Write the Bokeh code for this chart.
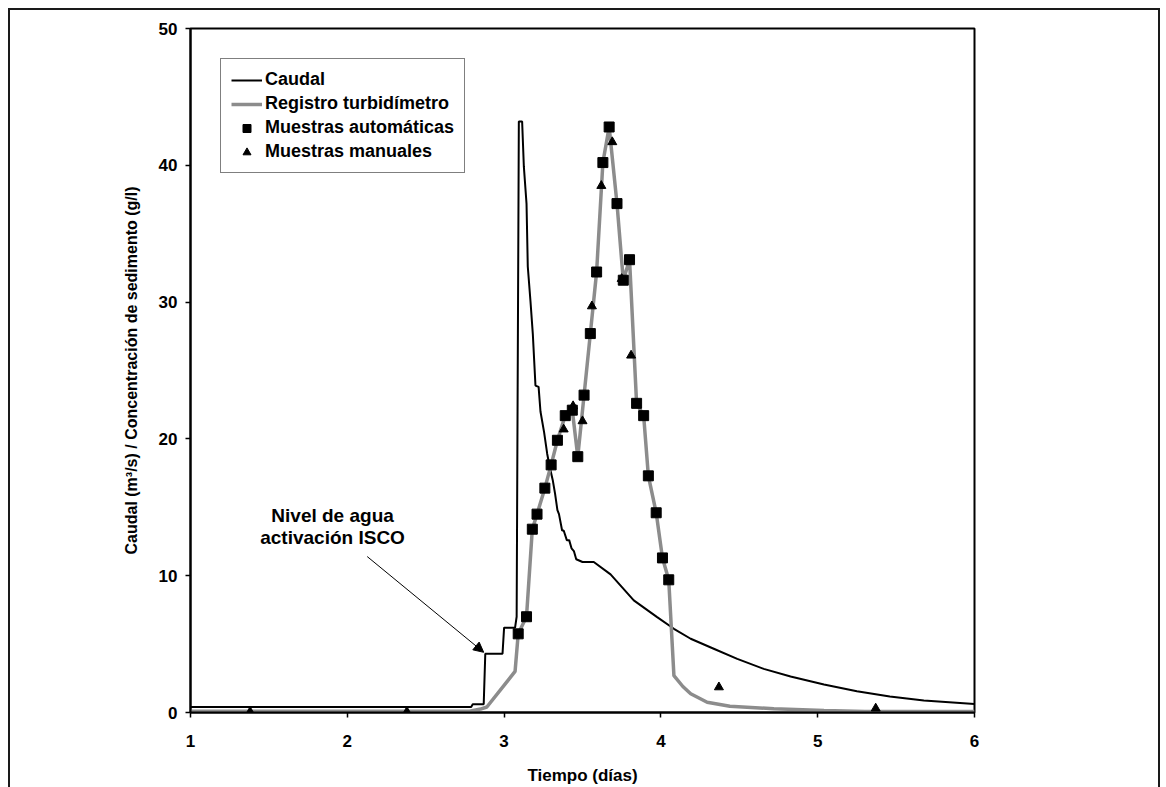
from bokeh.plotting import figure
from bokeh.models import Range1d, Legend, LegendItem, Label, Arrow, NormalHead, FixedTicker
from bokeh.embed import file_html
from bokeh.resources import INLINE

# ---- data ----
caudal_t = [1.0, 2.79, 2.80, 2.87, 2.88, 2.99, 3.0, 3.07, 3.08, 3.094, 3.115, 3.126, 3.143,
            3.151, 3.168, 3.183, 3.20, 3.22, 3.232, 3.255, 3.275, 3.29, 3.31, 3.325, 3.34,
            3.35, 3.37, 3.38, 3.40, 3.415, 3.43, 3.445, 3.46, 3.50, 3.572, 3.679, 3.827,
            3.976, 4.083, 4.19, 4.337, 4.487, 4.656, 4.827, 5.04, 5.25, 5.46, 5.677, 6.0]
caudal_q = [0.4, 0.4, 0.6, 0.6, 4.3, 4.3, 6.2, 6.2, 7.0, 43.2, 43.2, 39.9, 37.2,
            32.6, 30.1, 27.7, 23.9, 23.8, 22.0, 20.5, 18.9, 18.0, 17.0, 16.0, 14.8,
            14.5, 13.3, 13.3, 12.6, 12.6, 12.0, 11.8, 11.2, 11.0, 11.0, 10.1, 8.2,
            6.97, 6.12, 5.39, 4.66, 3.92, 3.19, 2.63, 2.05, 1.56, 1.17, 0.88, 0.62]

turb_t = [1.0, 2.78, 2.85, 2.89, 3.07, 3.09, 3.143, 3.18, 3.21, 3.26, 3.30, 3.34, 3.39,
          3.435, 3.47, 3.51, 3.55, 3.59, 3.63, 3.67, 3.72, 3.76, 3.80, 3.845, 3.89, 3.92,
          3.97, 4.01, 4.05, 4.083, 4.14, 4.19, 4.295, 4.44, 4.72, 5.04, 5.3, 6.0]
turb_c = [0.1, 0.1, 0.25, 0.4, 3.0, 5.75, 7.0, 13.4, 14.5, 16.4, 18.1, 19.9, 21.7,
          22.1, 18.7, 23.2, 27.7, 32.2, 40.2, 42.8, 37.2, 31.6, 33.1, 22.6, 21.7, 17.3,
          14.6, 11.3, 9.7, 2.7, 1.9, 1.37, 0.75, 0.46, 0.27, 0.15, 0.07, 0.07]

auto_t = [3.09, 3.143, 3.18, 3.21, 3.26, 3.30, 3.34, 3.39, 3.435, 3.47, 3.51, 3.55,
          3.59, 3.63, 3.67, 3.72, 3.76, 3.80, 3.845, 3.89, 3.92, 3.97, 4.01, 4.05]
auto_c = [5.75, 7.0, 13.4, 14.5, 16.4, 18.1, 19.9, 21.7, 22.1, 18.7, 23.2, 27.7,
          32.2, 40.2, 42.8, 37.2, 31.6, 33.1, 22.6, 21.7, 17.3, 14.6, 11.3, 9.7]

man_t = [1.38, 2.38, 3.38, 3.44, 3.50, 3.56, 3.62, 3.69, 3.75, 3.81, 4.37, 5.37]
man_c = [0.05, 0.05, 20.7, 22.4, 21.3, 29.7, 38.5, 41.7, 31.7, 26.1, 1.85, 0.3]

x_ticks = [1, 2, 3, 4, 5, 6]
y_ticks = [0, 10, 20, 30, 40, 50]

note_lines = ["Nivel de agua", "activación ISCO"]
note_x = 1.906
note_y = [14.4, 12.8]
arrow_start = (2.127, 11.4)
arrow_end = (2.87, 4.4)

FONT = "Liberation Sans"

p = figure(width=1152, height=790, output_backend="svg", toolbar_location=None,
           x_range=Range1d(1, 6), y_range=Range1d(0, 50),
           min_border_left=180, min_border_right=188, min_border_top=18, min_border_bottom=88)
p.styles = {"border": "2px solid #1a1a1a", "margin-left": "8px", "margin-top": "8px"}

p.grid.visible = False
p.outline_line_color = "black"
p.outline_line_width = 2
p.background_fill_color = "white"
p.border_fill_color = "white"

r_q = p.line(caudal_t, caudal_q, line_color="black", line_width=2)
r_t = p.line(turb_t, turb_c, line_color="#8c8c8c", line_width=3.5)
r_a = p.scatter(auto_t, auto_c, marker="square", size=10, fill_color="black", line_color="black")
r_m = p.scatter(man_t, man_c, marker="triangle", size=9, fill_color="black", line_color="black")

for ax in (p.xaxis[0], p.yaxis[0]):
    ax.axis_line_color = "black"
    ax.axis_line_width = 2
    ax.major_tick_out = 5
    ax.major_tick_in = 0
    ax.minor_tick_line_color = None
    ax.major_tick_line_width = 1.5
    ax.major_label_text_font = FONT
    ax.major_label_text_font_style = "bold"
    ax.major_label_text_font_size = "17px"
    ax.major_label_text_color = "black"
    ax.axis_label_text_font = FONT
    ax.axis_label_text_font_style = "bold"
    ax.axis_label_text_color = "black"

p.xaxis.ticker = FixedTicker(ticks=x_ticks)
p.yaxis.ticker = FixedTicker(ticks=y_ticks)
p.xaxis.major_label_standoff = 17
p.yaxis.major_label_standoff = 8
p.xaxis.axis_label = "Tiempo (días)"
p.yaxis.axis_label = "Caudal (m³/s) / Concentración de sedimento (g/l)"
p.xaxis.axis_label_text_font_size = "17px"
p.yaxis.axis_label_text_font_size = "16px"
p.xaxis.axis_label_standoff = 16
p.yaxis.axis_label_standoff = 16

for txt, yy in zip(note_lines, note_y):
    p.add_layout(Label(x=note_x, y=yy, text=txt, text_align="center", text_baseline="middle",
                       text_font=FONT, text_font_style="bold", text_font_size="19px",
                       text_color="black"))

p.add_layout(Arrow(x_start=arrow_start[0], y_start=arrow_start[1], x_end=arrow_end[0], y_end=arrow_end[1],
                   line_color="black", line_width=1,
                   end=NormalHead(size=10, fill_color="black", line_color="black")))

legend = Legend(items=[
    LegendItem(label="Caudal", renderers=[r_q]),
    LegendItem(label="Registro turbidímetro", renderers=[r_t]),
    LegendItem(label="Muestras automáticas", renderers=[r_a]),
    LegendItem(label="Muestras manuales", renderers=[r_m]),
], location="top_left")
legend.margin = 30
legend.padding = 10
legend.spacing = 3
legend.glyph_width = 31
legend.glyph_height = 20
legend.label_height = 20
legend.label_standoff = 3
legend.label_text_font = FONT
legend.label_text_font_style = "bold"
legend.label_text_font_size = "18px"
legend.label_text_color = "black"
legend.border_line_color = "black"
legend.border_line_width = 1
legend.background_fill_alpha = 1
p.add_layout(legend)

open("out.html", "w").write(file_html(p, INLINE))
